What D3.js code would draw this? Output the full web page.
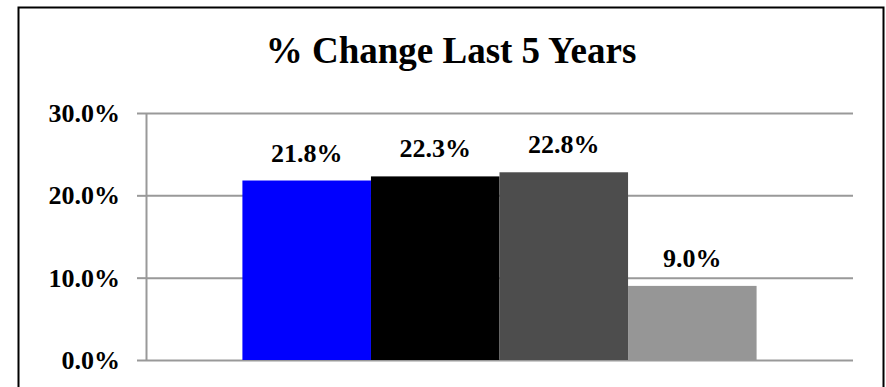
<!DOCTYPE html>
<html>
<head>
<meta charset="utf-8">
<script src="https://cdn.jsdelivr.net/npm/d3@7"></script>
<style>
  html, body { margin: 0; padding: 0; background: #fff; }
  svg { display: block; }
  text { font-family: "Palatino Linotype", "Book Antiqua", Palatino, "Liberation Serif", serif; font-weight: bold; fill: #000; }
</style>
</head>
<body>
<svg id="chart" width="886" height="387"></svg>
<script>
// Percent change over the last five years, one bar per series
const categories = ["Last 5 Years"];
const seriesNames = ["Series 1", "Series 2", "Series 3", "Series 4"];
const seriesValues = [21.8, 22.3, 22.8, 9.0];
const seriesColors = ["#0000ff", "#000000", "#4d4d4d", "#969696"];
const yTicks = [0, 10, 20, 30];

const svg = d3.select("#chart");

// Outer chart frame (bottom edge runs off the page)
svg.append("rect")
  .attr("x", 18.5).attr("y", 7.5)
  .attr("width", 865).attr("height", 420)
  .attr("fill", "none").attr("stroke", "#000").attr("stroke-width", 2);

svg.append("text")
  .attr("x", 451).attr("y", 63)
  .attr("text-anchor", "middle")
  .style("font-size", "37px")
  .text("% Change Last 5 Years");

const plot = { left: 146, right: 853, top: 113, bottom: 360 };

const y = d3.scaleLinear().domain([0, 30]).range([plot.bottom, plot.top]);
const x0 = d3.scaleBand().domain(categories)
  .range([plot.left, plot.right]).paddingInner(0).paddingOuter(0.1875);
const x1 = d3.scaleBand().domain(seriesNames)
  .range([0, x0.bandwidth()]).padding(0);

// Horizontal gridlines
svg.append("g")
  .attr("transform", `translate(${plot.left},0)`)
  .call(d3.axisLeft(y).tickValues(yTicks).tickSize(-(plot.right - plot.left)).tickFormat(""))
  .call(g => g.select(".domain").remove())
  .call(g => g.selectAll("line").attr("stroke", "#999").attr("stroke-width", 2));

// Bars
const groups = svg.append("g").selectAll("g")
  .data(categories).join("g")
  .attr("transform", d => `translate(${x0(d)},0)`);

groups.selectAll("rect")
  .data(() => seriesNames.map((s, i) => ({ s, v: seriesValues[i], c: seriesColors[i] })))
  .join("rect")
  .attr("x", d => x1(d.s))
  .attr("y", d => y(d.v))
  .attr("width", x1.bandwidth())
  .attr("height", d => y(0) - y(d.v))
  .attr("fill", d => d.c);

groups.selectAll("text")
  .data(() => seriesNames.map((s, i) => ({ s, v: seriesValues[i] })))
  .join("text")
  .attr("x", d => x1(d.s) + x1.bandwidth() / 2)
  .attr("y", d => y(d.v) - 19)
  .attr("text-anchor", "middle")
  .style("font-size", "26px")
  .text(d => d.v.toFixed(1) + "%");

// Value axis with outside ticks
svg.append("g")
  .attr("transform", `translate(${plot.left},0)`)
  .call(d3.axisLeft(y).tickValues(yTicks).tickSize(9).tickSizeOuter(0).tickPadding(17)
    .tickFormat(d => d.toFixed(1) + "%"))
  .call(g => g.select(".domain").attr("stroke", "#999").attr("stroke-width", 2))
  .call(g => g.selectAll(".tick line").attr("stroke", "#999").attr("stroke-width", 2))
  .call(g => g.selectAll(".tick text")
    .attr("dy", "0.33em")
    .style("font-size", "26px")
    .style("font-family", null));
</script>
</body>
</html>
